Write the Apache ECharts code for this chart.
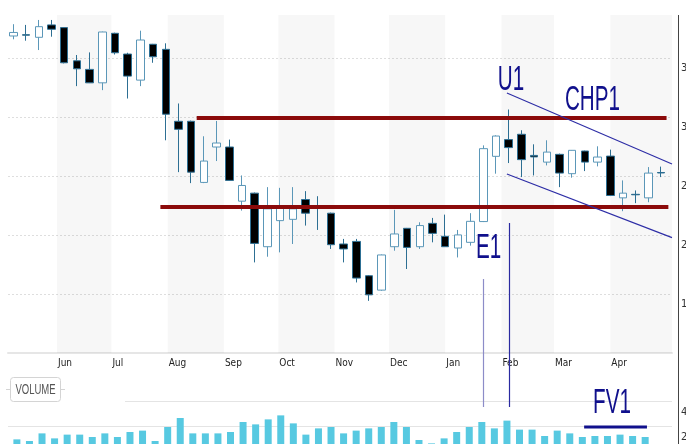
<!DOCTYPE html>
<html>
<head>
<meta charset="utf-8">
<script src="https://cdn.jsdelivr.net/npm/echarts@6/dist/echarts.min.js"></script>
<style>
  html, body { margin: 0; padding: 0; background: #fff; }
  #main { width: 686px; height: 444px; }
</style>
</head>
<body>
<div id="main"></div>
<script>
// weekly bars (dated by the Friday of each week)
const weeks = [
  '2015-05-08', '2015-05-15', '2015-05-22', '2015-05-29',
  '2015-06-05', '2015-06-12', '2015-06-19', '2015-06-26',
  '2015-07-03', '2015-07-10', '2015-07-17', '2015-07-24', '2015-07-31',
  '2015-08-07', '2015-08-14', '2015-08-21', '2015-08-28',
  '2015-09-04', '2015-09-11', '2015-09-18', '2015-09-25',
  '2015-10-02', '2015-10-09', '2015-10-16', '2015-10-23', '2015-10-30',
  '2015-11-06', '2015-11-13', '2015-11-20', '2015-11-27',
  '2015-12-04', '2015-12-11', '2015-12-18', '2015-12-25',
  '2016-01-01', '2016-01-08', '2016-01-15', '2016-01-22', '2016-01-29',
  '2016-02-05', '2016-02-12', '2016-02-19', '2016-02-26',
  '2016-03-04', '2016-03-11', '2016-03-18', '2016-03-25',
  '2016-04-01', '2016-04-08', '2016-04-15', '2016-04-22', '2016-04-29'
];
const opens = [
  36.87, 36.98, 36.76, 37.81, 37.58, 34.77, 34.04, 32.90, 37.10, 35.34, 33.13, 36.17, 35.74,
  29.64, 29.64, 24.46, 27.46, 27.46, 22.87, 23.55, 19.01, 21.22, 21.33, 23.01, 22.45, 21.85,
  19.24, 19.46, 16.55, 15.33, 19.01, 20.57, 19.01, 20.99, 19.89, 18.90, 19.38, 21.14, 26.67,
  28.09, 28.54, 26.75, 26.18, 26.84, 25.20, 27.12, 26.18, 26.69, 23.15, 23.45, 23.15, 25.30
];
const closes = [
  37.17, 36.94, 37.66, 37.44, 34.60, 34.09, 32.90, 37.21, 35.45, 33.47, 36.53, 35.11, 30.24,
  28.96, 25.33, 26.27, 27.80, 24.63, 24.20, 19.29, 22.22, 22.30, 22.22, 21.85, 22.30, 19.18,
  18.82, 16.35, 14.93, 18.31, 20.09, 18.95, 20.80, 20.14, 19.01, 20.01, 21.16, 27.32, 28.39,
  27.41, 26.39, 26.62, 27.03, 25.25, 27.18, 26.18, 26.61, 23.35, 23.55, 23.41, 25.25, 25.26
];
const lows = [
  36.59, 36.47, 35.68, 36.81, 34.55, 32.62, 32.88, 32.28, 35.30, 31.57, 32.62, 34.60, 28.03,
  25.33, 24.40, 24.40, 26.27, 24.60, 22.07, 17.68, 18.16, 18.53, 19.24, 20.80, 20.43, 18.82,
  17.68, 15.98, 14.42, 15.27, 18.67, 17.12, 18.82, 19.38, 19.00, 18.10, 19.10, 21.10, 25.20,
  26.10, 24.91, 25.05, 25.90, 24.06, 24.86, 25.42, 25.82, 23.30, 22.02, 22.70, 22.78, 24.91
];
const highs = [
  37.87, 37.81, 38.23, 38.23, 37.62, 35.26, 35.48, 37.24, 37.15, 35.45, 37.32, 36.20, 36.25,
  31.15, 29.70, 28.37, 29.67, 28.09, 25.05, 23.60, 24.06, 24.00, 24.06, 23.72, 23.29, 21.90,
  19.67, 19.67, 16.60, 18.35, 22.13, 20.60, 21.08, 21.45, 21.73, 20.43, 21.85, 27.60, 28.45,
  30.64, 28.88, 27.69, 28.03, 26.90, 27.20, 27.15, 27.52, 27.24, 24.63, 23.78, 25.76, 25.80
];
const volumes = [
  9.3, 8.0, 14.1, 10.1, 13.1, 13.1, 11.2, 14.1, 11.2, 15.2, 16.3, 8.0, 19.2,
  26.4, 14.1, 14.1, 14.1, 15.2, 23.2, 21.3, 25.3, 28.5, 22.1, 13.1, 18.1, 19.2,
  14.1, 16.3, 18.1, 19.2, 23.2, 19.2, 8.8, 6.1, 10.1, 15.2, 19.2, 23.2, 18.1,
  24.3, 17.1, 17.1, 12.0, 16.3, 14.1, 11.2, 12.0, 12.0, 13.1, 12.0, 11.2, 2.0
];

const axisStart = '2015-05-05';
const axisEnd = '2016-05-05';
const lastLabelledMonth = '2016-04-01';
const monthNames = ['Jan', 'Feb', 'Mar', 'Apr', 'May', 'Jun', 'Jul', 'Aug', 'Sep', 'Oct', 'Nov', 'Dec'];
// alternating shaded months
const shadedMonths = [
  ['2015-06-01', '2015-07-01'], ['2015-08-01', '2015-09-01'], ['2015-10-01', '2015-11-01'],
  ['2015-12-01', '2016-01-01'], ['2016-02-01', '2016-03-01'], ['2016-04-01', '2016-05-05']
];
// drawn support / resistance lines: [startDate, startPrice, endDate, endPrice]
const levelLines = [
  ['2015-08-17', 29.92, '2016-05-02', 29.92],
  ['2015-07-28', 22.42, '2016-05-03', 22.42]
];
const channelLines = [
  ['2016-02-04', 32.04, '2016-05-05', 26.02],
  ['2016-02-04', 25.17, '2016-05-05', 19.78]
];
// vertical markers from the price panel down into the volume panel
const markerLines = [
  { date: '2016-01-22', price: 16.27, vol: 35.2, color: '#8c8cc8' },
  { date: '2016-02-05', price: 21.02, vol: 35.2, color: '#2a2aa0' }
];
const notes = [
  { text: 'U1', date: '2016-01-30', value: 33.14, grid: 0 },
  { text: 'CHP1', date: '2016-03-07', value: 31.45, grid: 0 },
  { text: 'E1', date: '2016-01-18', value: 18.9, grid: 0 },
  { text: 'FV1', date: '2016-03-24', value: 38.4, grid: 1 }
];
const fvUnderline = ['2016-03-19', '2016-04-23', 19.2];

const ts = s => { const [y, m, d] = s.split('-').map(Number); return new Date(y, m - 1, d).getTime(); };
const DAY = 86400000;
const narrow = '"Liberation Sans Narrow", "DejaVu Sans Condensed", "Liberation Sans", sans-serif';
const navy = '#10108c';

const chart = echarts.init(document.getElementById('main'));

const option = {
  animation: false,
  textStyle: { fontFamily: narrow },
  grid: [
    { left: 8, right: 14, top: 15, bottom: 91, outerBoundsMode: 'none' },
    { left: 8, right: 14, top: 401, bottom: -7, outerBoundsMode: 'none' }
  ],
  xAxis: [
    {
      type: 'time', gridIndex: 0, min: ts(axisStart), max: ts(axisEnd),
      splitNumber: 12, minInterval: 28 * DAY, maxInterval: 31 * DAY,
      axisLine: { lineStyle: { color: '#e6e6e6', width: 2 } },
      axisTick: { show: false },
      splitLine: { show: false },
      axisLabel: {
        color: '#222', fontSize: 10, margin: 5, align: 'left', padding: [0, 0, 0, 1],
        hideOverlap: false,
        formatter: v => {
          const d = new Date(v);
          if (d.getDate() !== 1 || v > ts(lastLabelledMonth)) return '';
          return monthNames[d.getMonth()];
        }
      }
    },
    { type: 'time', gridIndex: 1, min: ts(axisStart), max: ts(axisEnd), show: false }
  ],
  yAxis: [
    {
      type: 'value', gridIndex: 0, position: 'right', offset: 6,
      min: 10, max: 38.65, interval: 5,
      axisLine: { show: false }, axisTick: { show: false },
      splitLine: { showMinLine: false, showMaxLine: false, lineStyle: { color: '#dedede', type: [2, 2] } },
      axisLabel: {
        showMinLabel: false, showMaxLabel: false, margin: 3, align: 'left',
        verticalAlign: 'top', padding: [5, 0, 0, 0], color: '#333', fontSize: 11
      }
    },
    {
      type: 'value', gridIndex: 1, position: 'right', offset: 6,
      min: 0, max: 40, interval: 20,
      axisLine: { show: false }, axisTick: { show: false },
      splitLine: { lineStyle: { color: '#e4e4e4', width: 1 } },
      axisLabel: {
        showMinLabel: false, margin: 3, align: 'left',
        verticalAlign: 'top', padding: [6, 0, 0, 0], color: '#333', fontSize: 11
      }
    }
  ],
  series: [
    {
      type: 'candlestick',
      xAxisIndex: 0, yAxisIndex: 0,
      barWidth: 8,
      data: weeks.map((w, i) => [ts(w), opens[i], closes[i], lows[i], highs[i]]),
      itemStyle: {
        color: '#ffffff', color0: '#000000',
        borderColor: '#5b97b8', borderColor0: '#2d6f93', borderWidth: 1
      },
      markArea: {
        silent: true,
        itemStyle: { color: 'rgba(0,0,0,0.032)' },
        data: shadedMonths.map(m => [{ xAxis: ts(m[0]) }, { xAxis: ts(m[1]) }])
      },
      markLine: {
        silent: true, symbol: 'none', animation: false,
        label: { show: false },
        data: [
          ...levelLines.map(l => [
            { coord: [ts(l[0]), l[1]], lineStyle: { color: '#8b0a0a', width: 4, type: 'solid' } },
            { coord: [ts(l[2]), l[3]] }
          ]),
          ...channelLines.map(l => [
            { coord: [ts(l[0]), l[1]], lineStyle: { color: '#2e2ea6', width: 1.2, type: 'solid' } },
            { coord: [ts(l[2]), l[3]] }
          ])
        ]
      }
    },
    {
      type: 'bar',
      xAxisIndex: 1, yAxisIndex: 1,
      barWidth: 7,
      data: weeks.map((w, i) => [ts(w), volumes[i]]),
      itemStyle: { color: '#57c9e1' }
    }
  ]
};

chart.setOption(option);

// annotations placed through the chart's own scales
const pt = (g, d, v) => chart.convertToPixel({ gridIndex: g }, [ts(d), v]);
const topRight = pt(0, axisEnd, 38.65);
const axisX = Math.round(topRight[0]) + 6.5;
const graphics = [];

// volume header box
graphics.push({ type: 'rect', z: 5, shape: { x: 8, y: 398.5, width: 117, height: 4 }, style: { fill: '#fff' } });
graphics.push({ type: 'line', z: 6, shape: { x1: 6, y1: 389.5, x2: 10, y2: 389.5 }, style: { stroke: '#d4d4d4' } });
graphics.push({ type: 'line', z: 6, shape: { x1: 61, y1: 389.5, x2: 65, y2: 389.5 }, style: { stroke: '#d4d4d4' } });
graphics.push({ type: 'rect', z: 6, shape: { x: 10.5, y: 377.5, width: 50, height: 24, r: 3 }, style: { fill: '#fff', stroke: '#d4d4d4' } });
graphics.push({
  type: 'text', z: 7, x: 35.5, y: 390.5, scaleX: 0.68,
  style: { text: 'VOLUME', fontSize: 14, fontFamily: 'Liberation Sans', fill: '#555',
    align: 'center', textAlign: 'center', verticalAlign: 'middle', textVerticalAlign: 'middle' }
});

// right axis line through both panels
graphics.push({ type: 'line', z: 6, shape: { x1: axisX, y1: topRight[1], x2: axisX, y2: 444 }, style: { stroke: '#444', lineWidth: 1 } });

markerLines.forEach(m => {
  const a = pt(0, m.date, m.price);
  const b = pt(1, m.date, m.vol);
  const x = Math.round(a[0]) + 0.5;
  graphics.push({ type: 'line', z: 20, shape: { x1: x, y1: a[1], x2: x, y2: b[1] }, style: { stroke: m.color, lineWidth: 1.2 } });
});

notes.forEach(n => {
  const p = pt(n.grid, n.date, n.value);
  graphics.push({
    type: 'text', z: 20, x: p[0], y: p[1], scaleX: 0.59,
    style: { text: n.text, fontSize: 35, fontFamily: 'Liberation Sans', fill: navy,
      align: 'left', textAlign: 'left', verticalAlign: 'middle', textVerticalAlign: 'middle' }
  });
});

const u0 = pt(1, fvUnderline[0], fvUnderline[2]);
const u1 = pt(1, fvUnderline[1], fvUnderline[2]);
graphics.push({ type: 'line', z: 20, shape: { x1: u0[0], y1: u0[1], x2: u1[0], y2: u1[1] }, style: { stroke: navy, lineWidth: 3 } });

chart.setOption({ graphic: graphics });
</script>
</body>
</html>
